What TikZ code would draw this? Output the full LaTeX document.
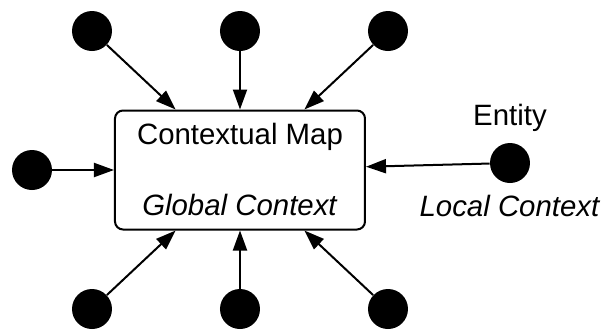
\documentclass[tikz,border=0pt]{standalone}
\usepackage{fontspec}
\setmainfont{Liberation Sans}
\usepackage{tikz}
\usetikzlibrary{arrows.meta,positioning}
\tikzset{
  dot/.style={circle, fill=black, inner sep=0pt, minimum size=20pt},
  mapbox/.style={draw, line width=1pt, rounded corners=4pt,
    minimum width=125pt, minimum height=59.5pt},
  feed/.style={line width=1pt, -{Triangle[length=10pt,width=7pt]}},
}

\begin{document}
\begin{tikzpicture}[x=0.5pt, y=0.5pt, every node/.style={font=\fontsize{14.7}{17}\selectfont}]
\useasboundingbox (0,0) rectangle (602,329);
% Contextual map (box in the middle)
\node[mapbox] (map) at (240,159) {};
\node[anchor=base] (maptitle) at (240,185) {Contextual Map};
\node[anchor=base] (mapscope) at (240,114) {\textit{Global Context}};
% Sources around the map
\foreach \name/\x/\y in {tl/92/298, tc/240/298, tr/388/298, ml/32/159,
                         bl/92/20, bc/240/20, br/388/20}{
  \node[dot] (\name) at (\x,\y) {};
  \draw[feed] (\name) -- (map);
}
% Entity on the right
\node[dot] (entity) at (510,166) {};
\node[anchor=base] (entitylabel) at (510,204) {Entity};
\node[anchor=base] (entityscope) at (510,113) {\textit{Local Context}};
\draw[feed] (entity) -- (map);
\end{tikzpicture}
\end{document}
